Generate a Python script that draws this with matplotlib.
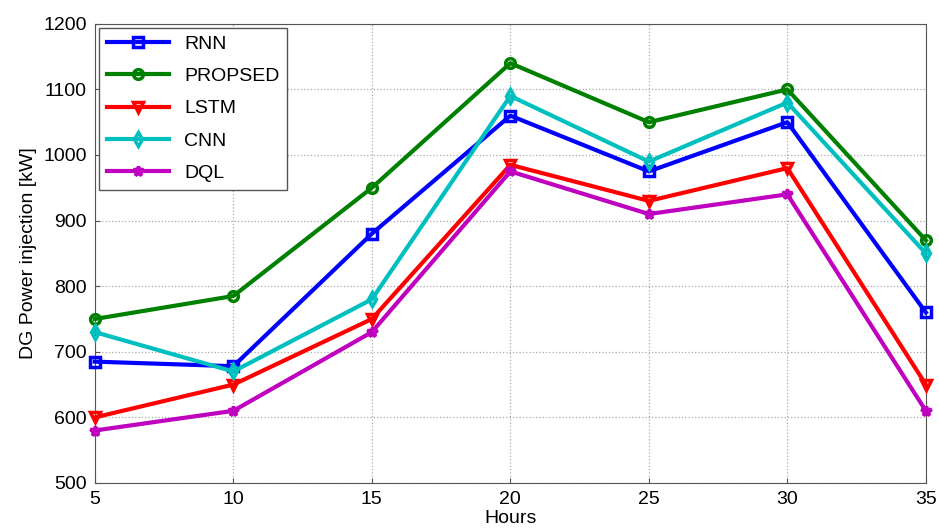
import matplotlib
matplotlib.use("Agg")
import matplotlib.pyplot as plt

plt.rcParams['font.family'] = ['Liberation Sans', 'DejaVu Sans']

# ================= DATA =================
hours = [5, 10, 15, 20, 25, 30, 35]
rnn = [685, 678, 880, 1060, 975, 1050, 760]
propsed = [750, 785, 950, 1140, 1050, 1100, 870]
lstm = [600, 650, 750, 985, 930, 980, 650]
cnn = [730, 670, 780, 1090, 990, 1080, 850]
dql = [580, 610, 730, 975, 910, 940, 610]

# ================= PLOT =================
fig = plt.figure(figsize=(9.39, 5.29), dpi=100)
ax = fig.add_axes([0.101, 0.087, 0.885, 0.868])

style = dict(linewidth=3, markersize=7, markerfacecolor='none',
             markeredgewidth=2.5, clip_on=False, zorder=3)
ax.plot(hours, rnn, color='#0000ff', marker='s', label='RNN', **style)
ax.plot(hours, propsed, color='#008000', marker='o', label='PROPSED', **style)
ax.plot(hours, lstm, color='#ff0000', marker='v', label='LSTM', **style)
ax.plot(hours, cnn, color='#00bfbf', marker='d', label='CNN', **style)
ax.plot(hours, dql, color='#bf00bf', marker='*', label='DQL', **style)

ax.set_xlim(5, 35)
ax.set_ylim(500, 1200)
ax.set_xticks(hours)
ax.set_yticks(range(500, 1201, 100))
ax.tick_params(labelsize=14, direction='in', color='#555555', pad=6)
for s in ax.spines.values():
    s.set_color('#555555')
ax.grid(True, linestyle=':', color='#aaaaaa', linewidth=0.9)
ax.set_xlabel('Hours', fontsize=14, labelpad=1)
ax.set_ylabel('DG Power injection [kW]', fontsize=14, labelpad=4)

leg = ax.legend(loc='upper left', fontsize=14, fancybox=False, framealpha=1,
                edgecolor='#555555', handlelength=3.2, borderaxespad=0.2,
                labelspacing=0.75)
leg.get_frame().set_linewidth(1)

fig.savefig("out.png", dpi=100)
